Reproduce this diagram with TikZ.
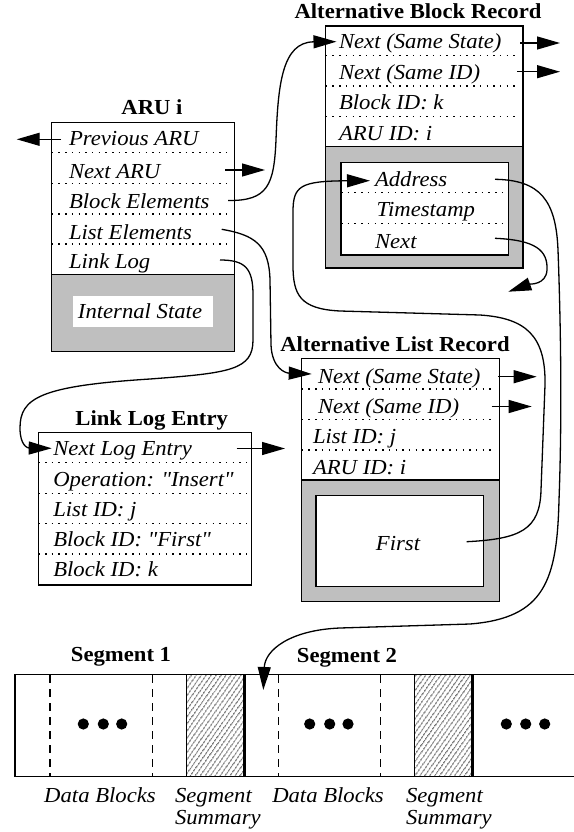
\documentclass[tikz,border=0pt]{standalone}
\usepackage{fontspec}
\setmainfont{Liberation Serif}[FakeStretch=1.06,Ligatures=TeXOff]
\usetikzlibrary{arrows.meta,patterns.meta}
\definecolor{boxgray}{RGB}{191,191,191}
\begin{document}
\begin{tikzpicture}[x=1pt,y=-1pt,
  every node/.style={inner sep=0pt,outer sep=0pt},
  lbl/.style={anchor=base west,font=\fontsize{21.4}{24}\selectfont\itshape},
  clbl/.style={anchor=base,font=\fontsize{21.4}{24}\selectfont\itshape},
  ttl/.style={anchor=base,font=\fontsize{21.4}{24}\selectfont\bfseries},
  whitebox/.style={draw,line width=1.3pt,fill=white},
  graybox/.style={draw,line width=1.3pt,fill=boxgray},
  hatchbox/.style={draw,line width=1.2pt,pattern={Lines[angle=55,distance=4pt,line width=1pt]},pattern color=black!85},
  dotline/.style={line width=1.5pt,dash pattern=on 1.5pt off 5.2pt},
  segdash/.style={line width=1.4pt,dash pattern=on 8pt off 6pt},
  arr/.style={line width=1.3pt,-{Triangle[length=23pt,width=13pt]}},
]
\useasboundingbox (0,0) rectangle (573,832);

% ---------- ARU i ----------
\node[whitebox,minimum width=182.6pt,minimum height=152pt] (aruTop) at (143,198.3) {};
\node[graybox,minimum width=182.6pt,minimum height=77.4pt] (aruState) at (143,313) {};
\node[fill=white,minimum width=140pt,minimum height=30.7pt] (isBox) at (143.3,311.35) {};
\foreach \y in {152.3,183.3,214,244} \draw[dotline] (51.7,\y) -- (230,\y);
\node[ttl] (aruT) at (152,115) {ARU i};
\node[lbl] (prevaru) at (69,146) {Previous ARU};
\node[lbl] (nextaru) at (69,178.3) {Next ARU};
\node[lbl] (blockel) at (69,208.3) {Block Elements};
\node[lbl] (listel) at (69,239.3) {List Elements};
\node[lbl] (linklog) at (69,268.3) {Link Log};
\node[clbl] (intstate) at (140,318.3) {Internal State};

% ---------- Alternative Block Record ----------
\node[whitebox,minimum width=197.3pt,minimum height=120.7pt] (abrTop) at (424.35,86.35) {};
\node[graybox,minimum width=197.3pt,minimum height=121.3pt] (abrState) at (424.35,207.35) {};
\node[whitebox,minimum width=167.7pt,minimum height=92.3pt] (abrInner) at (424.85,208.85) {};
\foreach \y in {55.7,86,116.7} \draw[dotline] (325.7,\y) -- (518,\y);
\foreach \y in {192.7,223.3} \draw[dotline] (341,\y) -- (503,\y);
\node[ttl] (abrT) at (418,18.5) {Alternative Block Record};
\node[lbl] (abrNS) at (339,48.3) {Next (Same State)};
\node[lbl] (abrNI) at (339,79.3) {Next (Same ID)};
\node[lbl] (abrBID) at (339,110) {Block ID: k};
\node[lbl] (abrAID) at (339,140) {ARU ID: i};
\node[lbl] (addr) at (375,186.7) {Address};
\node[lbl] (tstamp) at (376.7,216.7) {Timestamp};
\node[lbl] (inext) at (375,248.3) {Next};

% ---------- Link Log Entry ----------
\node[whitebox,minimum width=213.4pt,minimum height=152.3pt] (lleBox) at (145,508.85) {};
\foreach \y in {462.7,493.3,523.3,554} \draw[dotline] (38.3,\y) -- (246.7,\y);
\node[ttl] (lleT) at (151.7,425) {Link Log Entry};
\node[lbl] (lleNext) at (53.3,455) {Next Log Entry};
\node[lbl] (lleOp) at (53.3,486.7) {Operation: "Insert"};
\node[lbl] (lleList) at (53.3,516.7) {List ID: j};
\node[lbl] (lleBF) at (53.3,546.7) {Block ID: "First"};
\node[lbl] (lleBK) at (53.3,576.7) {Block ID: k};

% ---------- Alternative List Record ----------
\node[whitebox,minimum width=197.6pt,minimum height=121.7pt] (alrTop) at (400.5,419.15) {};
\node[graybox,minimum width=197.6pt,minimum height=121.7pt] (alrState) at (400.5,540.85) {};
\node[whitebox,minimum width=167.3pt,minimum height=91pt] (alrInner) at (399.65,541.2) {};
\foreach \y in {389,419.3,450} \draw[dotline] (301.7,\y) -- (493,\y);
\node[ttl] (alrT) at (395,351.7) {Alternative List Record};
\node[lbl] (alrNS) at (318,383.3) {Next (Same State)};
\node[lbl] (alrNI) at (318,413.3) {Next (Same ID)};
\node[lbl] (alrLID) at (313,443.3) {List ID: j};
\node[lbl] (alrAID) at (313,474) {ARU ID: i};
\node[clbl] (first) at (398,550) {First};

% ---------- Segments ----------
\draw[line width=1.3pt] (590,674.5) -- (15,674.5) -- (15,776.5) -- (590,776.5);
\node[hatchbox,minimum width=58pt,minimum height=102pt] (ss1) at (215.7,725.5) {};
\node[hatchbox,minimum width=57.6pt,minimum height=102pt] (ss2) at (443.5,725.5) {};
\draw[line width=2.8pt] (ss1.north east) -- (ss1.south east);
\draw[line width=2.8pt] (ss2.north east) -- (ss2.south east);
\foreach \x in {50,152.7,278.3,380.7} \draw[segdash] (\x,675) -- (\x,776);
\foreach \x in {83.3,103.3,121.7,309.7,329.7,348,506.3,525.7,544.7} \fill (\x,724) circle[radius=5.6pt];
\node[ttl] (seg1T) at (121,661.7) {Segment 1};
\node[ttl] (seg2T) at (347,662) {Segment 2};
\node[clbl] (db1) at (100,802.7) {Data Blocks};
\node[clbl] (db2) at (328,802.7) {Data Blocks};
\node[lbl] (ss1a) at (175,802.7) {Segment};
\node[lbl] (ss1b) at (175,824) {Summary};
\node[lbl] (ss2a) at (406,802.7) {Segment};
\node[lbl] (ss2b) at (406,824) {Summary};

% ---------- connector end points ----------
\coordinate (prevS) at (61,139.3);   \coordinate (prevT) at (16.7,139.3);
\coordinate (naruS) at (225,170);    \coordinate (naruT) at (265,170);
\coordinate (beS) at (228,200.5);    \coordinate (abrIn) at (336.5,41.7);
\coordinate (leS) at (221.7,229.3);  \coordinate (alrIn) at (311.7,374);
\coordinate (llS) at (220,260);      \coordinate (lleIn) at (51.7,448.3);
\coordinate (abrNSs) at (520,43);    \coordinate (abrNSt) at (560,43);
\coordinate (abrNIs) at (517,71.7);  \coordinate (abrNIt) at (560,71.7);
\coordinate (addrS) at (495,179.3);  \coordinate (addrIn) at (370,180.7);
\coordinate (nxS) at (495,238.3);    \coordinate (nxT) at (508.3,291.7);
\coordinate (firstS) at (466.7,541.7);
\coordinate (segIn) at (263.3,690);
\coordinate (lleS) at (236.7,448.5); \coordinate (lleT2) at (285,448.5);
\coordinate (alrNSs) at (498,376.7); \coordinate (alrNSt) at (536.7,376.7);
\coordinate (alrNIs) at (491.7,406.5); \coordinate (alrNIt) at (531.7,406.5);

% ---------- connectors ----------
\draw[arr] (prevS) -- (prevT);
\draw[arr] (naruS) -- (naruT);
\draw[arr] (abrNSs) -- (abrNSt);
\draw[arr] (abrNIs) -- (abrNIt);
\draw[arr] (lleS) -- (lleT2);
\draw[arr] (alrNSs) -- (alrNSt);
\draw[arr] (alrNIs) -- (alrNIt);

\draw[arr] (beS) .. controls (268,201) and (274,185) .. (276,140)
  .. controls (278,85) and (282,42) .. (abrIn);
\draw[arr] (leS) .. controls (255,235) and (269,245) .. (270,280) -- (271,345)
  .. controls (272,368) and (285,373) .. (alrIn);
\draw[arr] (llS) .. controls (245,260) and (253,268) .. (253,295) -- (253,340)
  .. controls (253,370) and (230,373) .. (150,379)
  .. controls (40,386) and (20,398) .. (20,428)
  .. controls (20,446) and (28,448) .. (lleIn);
\draw[arr] (firstS) .. controls (520,539) and (540,530) .. (541,490) -- (545,385)
  .. controls (546,335) and (525,318) .. (480,315) -- (340,311)
  .. controls (300,309) and (293,295) .. (293,265) -- (293,212)
  .. controls (293,186) and (300,181) .. (addrIn);
\draw[arr] (addrS) .. controls (540,180) and (556,200) .. (558,250)
  .. controls (561,330) and (562,420) .. (559,500)
  .. controls (557,580) and (545,618) .. (470,624) -- (340,628)
  .. controls (290,630) and (265,650) .. (segIn);
\draw[arr] (nxS) .. controls (535,240) and (548,250) .. (547,270)
  .. controls (546,285) and (530,284) .. (nxT);
\end{tikzpicture}
\end{document}
